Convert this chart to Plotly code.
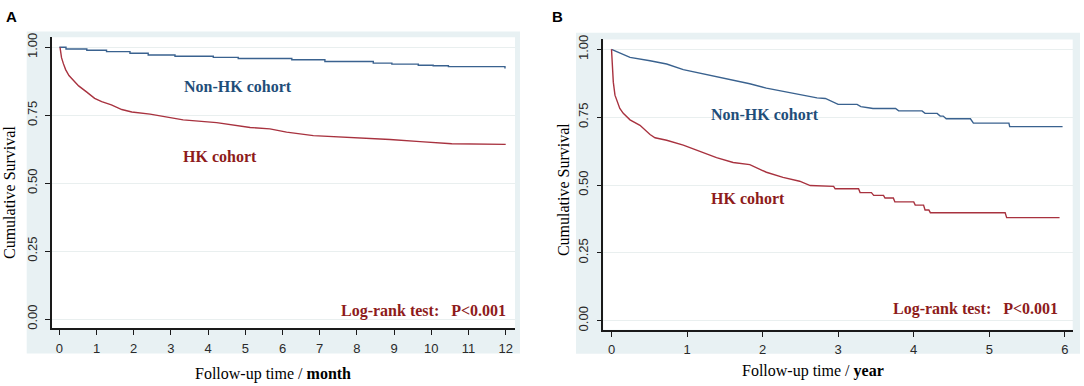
import plotly.graph_objects as go

# ---------------- data ----------------
# Panel A: follow-up in months (Non-HK drawn as steps, HK as traced vertices)
a_nonhk_t = [0, 0.18, 0.74, 1.27, 1.90, 2.39, 3.11, 4.14, 4.81, 6.25, 7.14, 8.44, 8.94, 9.65, 10.05, 10.46, 11.98, 12.0]
a_nonhk_s = [1.0, 0.994, 0.989, 0.984, 0.978, 0.972, 0.967, 0.963, 0.959, 0.954, 0.948, 0.942, 0.938, 0.934, 0.932, 0.929, 0.925, 0.925]

a_hk_t = [0.02, 0.06, 0.11, 0.17, 0.26, 0.38, 0.52, 0.74, 0.95, 1.14, 1.40, 1.68, 1.95, 2.44, 2.89, 3.33, 4.23,
          5.13, 5.66, 6.11, 6.83, 7.73, 8.35, 8.89, 9.70, 10.55, 12.0]
a_hk_s = [1.0, 0.962, 0.940, 0.918, 0.896, 0.878, 0.858, 0.835, 0.812, 0.800, 0.788, 0.771, 0.762, 0.754, 0.743, 0.733, 0.723,
          0.705, 0.700, 0.688, 0.675, 0.669, 0.666, 0.661, 0.653, 0.645, 0.643]

# Panel B: follow-up in years (traced vertices)
b_nonhk_t = [0, 0.11, 0.245, 0.51, 0.73, 0.95, 1.17, 1.39, 1.61, 1.83, 2.05, 2.27, 2.49, 2.72, 2.83, 3.00, 3.25, 3.30,
             3.42, 3.46, 3.76, 3.80, 4.11, 4.15, 4.31, 4.35, 4.39, 4.43, 4.75, 4.79, 5.26, 5.27, 5.97]
b_nonhk_s = [1.0, 0.986, 0.970, 0.958, 0.946, 0.925, 0.912, 0.897, 0.885, 0.873, 0.857, 0.845, 0.833, 0.821, 0.819, 0.797, 0.797, 0.789,
             0.784, 0.782, 0.782, 0.773, 0.773, 0.764, 0.764, 0.754, 0.754, 0.744, 0.744, 0.728, 0.728, 0.715, 0.715]

b_hk_t = [0, 0.015, 0.024, 0.046, 0.077, 0.11, 0.156, 0.245, 0.377, 0.51, 0.576, 0.73, 0.95, 1.17, 1.39, 1.61, 1.83, 2.05,
          2.27, 2.49, 2.63, 2.94, 2.96, 3.27, 3.29, 3.44, 3.47, 3.60, 3.62, 3.73, 3.75, 4.00, 4.02, 4.13, 4.15, 4.20, 4.22,
          5.21, 5.23, 5.93]
b_hk_s = [1.0, 0.927, 0.879, 0.831, 0.807, 0.782, 0.764, 0.740, 0.720, 0.686, 0.674, 0.665, 0.647, 0.625, 0.601, 0.583, 0.575, 0.547,
          0.528, 0.514, 0.498, 0.495, 0.486, 0.486, 0.472, 0.472, 0.462, 0.462, 0.452, 0.452, 0.438, 0.438, 0.426, 0.426, 0.408, 0.408, 0.398,
          0.398, 0.380, 0.380]

a_xticks = list(range(0, 13))
b_xticks = list(range(0, 7))
y_ticks = [0, 0.25, 0.5, 0.75, 1.0]
y_ticklabels = ["0.00", "0.25", "0.50", "0.75", "1.00"]

panel_labels = ["A", "B"]
cohort_labels = ["Non-HK cohort", "HK cohort"]
test_label = "Log-rank test:\u00a0\u00a0 P&lt;0.001"
x_titles = ["Follow-up time / <b>month</b>", "Follow-up time / <b>year</b>"]
y_title = "Cumulative Survival"

# ---------------- style ----------------
W, H = 1084, 386
BLUE_LINE = "#3a628f"
RED_LINE = "#a8323f"
BLUE_TXT = "#1f4e79"
RED_TXT = "#8e1b1b"
PANEL_BG = "#e8f1f3"
GRID = "#e9efef"
AXIS = "#1a1a1a"
SERIF = "Liberation Serif, Times New Roman, serif"
SANS = "Liberation Sans, Arial, sans-serif"


def px(x):
    return x / W


def py(y):
    return 1 - y / H


fig = go.Figure()

fig.add_trace(go.Scatter(x=a_nonhk_t, y=a_nonhk_s, mode="lines", line=dict(color=BLUE_LINE, width=1.4, shape="hv"),
                         xaxis="x", yaxis="y", showlegend=False, hoverinfo="skip"))
fig.add_trace(go.Scatter(x=a_hk_t, y=a_hk_s, mode="lines", line=dict(color=RED_LINE, width=1.4),
                         xaxis="x", yaxis="y", showlegend=False, hoverinfo="skip"))
fig.add_trace(go.Scatter(x=b_nonhk_t, y=b_nonhk_s, mode="lines", line=dict(color=BLUE_LINE, width=1.4),
                         xaxis="x2", yaxis="y2", showlegend=False, hoverinfo="skip"))
fig.add_trace(go.Scatter(x=b_hk_t, y=b_hk_s, mode="lines", line=dict(color=RED_LINE, width=1.4),
                         xaxis="x2", yaxis="y2", showlegend=False, hoverinfo="skip"))

# plot-area pixel boxes
A_box = dict(l=52, r=515, t=32.7, b=328.3)
B_box = dict(l=603.3, r=1072.7, t=35, b=330)

common_x = dict(showline=True, linecolor=AXIS, linewidth=1.5, ticks="outside", ticklen=5, tickwidth=1.3,
                tickcolor=AXIS, showgrid=False, zeroline=False, tickfont=dict(family=SANS, size=13, color="#2a2a2a"),
                ticklabelstandoff=2, fixedrange=True)
common_y = dict(showline=True, linecolor=AXIS, linewidth=1.5, ticks="outside", ticklen=5, tickwidth=1.3,
                tickcolor=AXIS, showgrid=True, gridcolor=GRID, gridwidth=1, zeroline=False,
                tickvals=y_ticks, ticktext=y_ticklabels, tickangle=-90,
                tickfont=dict(family=SANS, size=13, color="#2a2a2a"), ticklabelstandoff=3, fixedrange=True)

fig.update_layout(
    width=W, height=H, margin=dict(l=0, r=0, t=0, b=0),
    paper_bgcolor="white", plot_bgcolor="rgba(0,0,0,0)",
    xaxis=dict(domain=[px(A_box["l"]), px(A_box["r"])], range=[-0.196, 12.25], tickvals=a_xticks, anchor="y", **common_x),
    yaxis=dict(domain=[py(A_box["b"]), py(A_box["t"])], range=[-0.0337, 1.0373], anchor="x", **common_y),
    xaxis2=dict(domain=[px(B_box["l"]), px(B_box["r"])], range=[-0.1085, 6.104], tickvals=b_xticks, anchor="y2", **common_x),
    yaxis2=dict(domain=[py(B_box["b"]), py(B_box["t"])], range=[-0.0337, 1.0363], anchor="x2", **common_y),
)

shapes = []
# light panel backgrounds
shapes.append(dict(type="rect", xref="paper", yref="paper", x0=px(26.7), x1=px(520), y0=py(354), y1=py(27),
                   fillcolor=PANEL_BG, line=dict(width=0), layer="below"))
shapes.append(dict(type="rect", xref="paper", yref="paper", x0=px(576), x1=px(1080), y0=py(354.3), y1=py(28.3),
                   fillcolor=PANEL_BG, line=dict(width=0), layer="below"))
# white plot areas
for bx in (A_box, B_box):
    shapes.append(dict(type="rect", xref="paper", yref="paper", x0=px(bx["l"]), x1=px(bx["r"]), y0=py(bx["b"]),
                       y1=py(bx["t"]), fillcolor="white", line=dict(width=0), layer="below"))
fig.update_layout(shapes=shapes)

ann = []
# panel letters
ann.append(dict(text="<b>%s</b>" % panel_labels[0], x=px(4), y=py(12), xref="paper", yref="paper",
                xanchor="left", yanchor="middle", showarrow=False, font=dict(family=SANS, size=15, color="black")))
ann.append(dict(text="<b>%s</b>" % panel_labels[1], x=px(550), y=py(12), xref="paper", yref="paper",
                xanchor="left", yanchor="middle", showarrow=False, font=dict(family=SANS, size=15, color="black")))

# cohort labels panel A
ann.append(dict(text="<b>%s</b>" % cohort_labels[0], x=3.3, y=0.855, xref="x", yref="y", xanchor="left",
                yanchor="middle", showarrow=False, font=dict(family=SERIF, size=16, color=BLUE_TXT)))
ann.append(dict(text="<b>%s</b>" % cohort_labels[1], x=3.28, y=0.598, xref="x", yref="y", xanchor="left",
                yanchor="middle", showarrow=False, font=dict(family=SERIF, size=16, color=RED_TXT)))
ann.append(dict(text="<b>%s</b>" % test_label, x=12.07, y=0.03, xref="x", yref="y", xanchor="right",
                yanchor="middle", showarrow=False, font=dict(family=SERIF, size=16, color=RED_TXT)))

# cohort labels panel B
ann.append(dict(text="<b>%s</b>" % cohort_labels[0], x=1.295, y=0.761, xref="x2", yref="y2", xanchor="left",
                yanchor="middle", showarrow=False, font=dict(family=SERIF, size=16, color=BLUE_TXT)))
ann.append(dict(text="<b>%s</b>" % cohort_labels[1], x=1.295, y=0.45, xref="x2", yref="y2", xanchor="left",
                yanchor="middle", showarrow=False, font=dict(family=SERIF, size=16, color=RED_TXT)))
ann.append(dict(text="<b>%s</b>" % test_label, x=5.93, y=0.045, xref="x2", yref="y2", xanchor="right",
                yanchor="middle", showarrow=False, font=dict(family=SERIF, size=16, color=RED_TXT)))

# axis titles
ann.append(dict(text=x_titles[0], x=px(273), y=py(375), xref="paper", yref="paper", xanchor="center",
                yanchor="middle", showarrow=False, font=dict(family=SERIF, size=16, color="black")))
ann.append(dict(text=x_titles[1], x=px(813), y=py(372), xref="paper", yref="paper", xanchor="center",
                yanchor="middle", showarrow=False, font=dict(family=SERIF, size=16, color="black")))
ann.append(dict(text=y_title, x=px(9), y=py(191), xref="paper", yref="paper", xanchor="center",
                yanchor="middle", textangle=-90, showarrow=False, font=dict(family=SERIF, size=16, color="black")))
ann.append(dict(text=y_title, x=px(563), y=py(188), xref="paper", yref="paper", xanchor="center",
                yanchor="middle", textangle=-90, showarrow=False, font=dict(family=SERIF, size=16, color="black")))

fig.update_layout(annotations=ann)

fig.write_html("out.html", config={"displayModeBar": False},
               post_script="document.body.style.margin='0px'; document.body.style.overflow='hidden';")
